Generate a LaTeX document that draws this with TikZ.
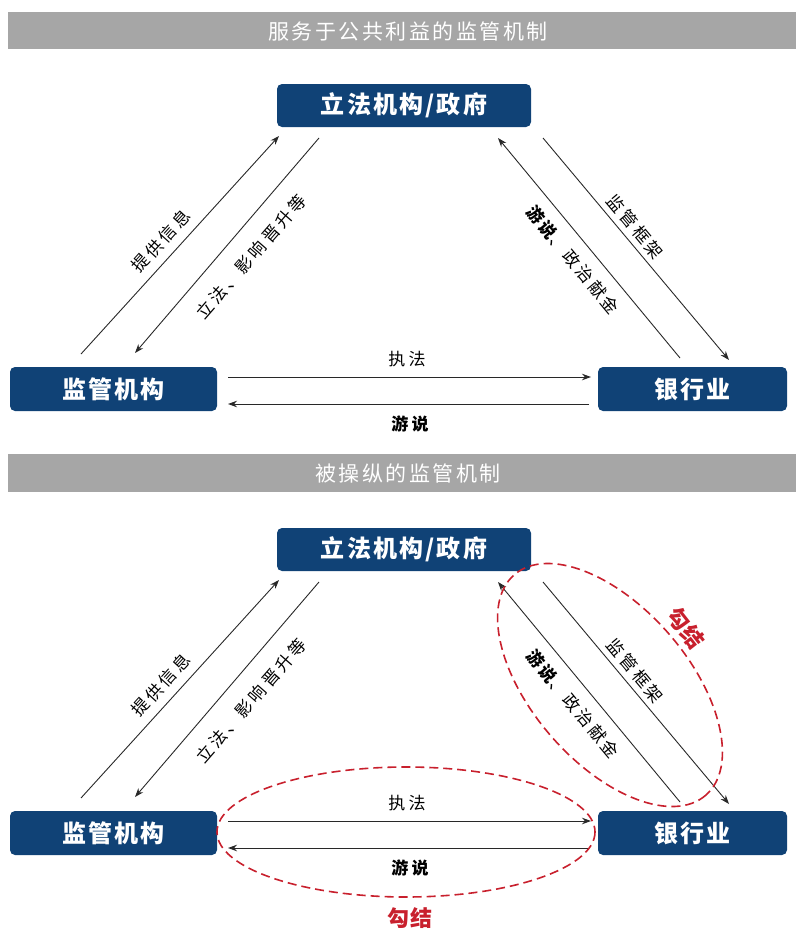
\documentclass[tikz,border=0pt]{standalone}
\usepackage{fontspec}
\newfontfamily\cjk{Noto Sans CJK SC}
\newfontfamily\cjkls{Noto Sans CJK SC}[LetterSpace=18]
\newfontfamily\cjkbox{Noto Sans CJK SC}[LetterSpace=9]
\newfontfamily\cjktitle{Noto Sans CJK SC}[LetterSpace=12]
\usetikzlibrary{arrows.meta}
\definecolor{boxblue}{RGB}{16,66,118}
\definecolor{bargray}{RGB}{166,166,166}
\definecolor{linegray}{RGB}{40,40,40}
\definecolor{colred}{RGB}{200,32,45}
\tikzset{
  actor/.style={fill=boxblue, rounded corners=5pt, text=white, inner sep=0pt,
    font=\cjkbox\bfseries\fontsize{24}{28}\selectfont},
  flow/.style={draw=linegray, line width=0.9pt, -{Stealth[length=9pt,width=6.5pt]}},
  lbl/.style={font=\cjkls\fontsize{17}{20}\selectfont, text=black, inner sep=0pt},
  blbl/.style={lbl, font=\cjkls\bfseries\fontsize{17}{20}\selectfont},
  bar/.style={fill=bargray, draw=none},
  bartitle/.style={text=white, inner sep=0pt, font=\cjktitle\fontsize{21}{25}\selectfont},
  collude/.style={draw=colred, dash pattern=on 9pt off 5pt, line width=1.6pt},
  collabel/.style={text=colred, inner sep=0pt, font=\cjkbox\bfseries\fontsize{22}{26}\selectfont},
}
\begin{document}
\begin{tikzpicture}[x=1pt,y=-1pt]
\useasboundingbox (0,0) rectangle (796,934);
% title bars
\fill[bar] (8,12) rectangle (796,49);
\node[bartitle] (t1) at (408,31) {服务于公共利益的监管机制};
\fill[bar] (8,454) rectangle (796,492);
\node[bartitle] (t2) at (408,473) {被操纵的监管机制};
\foreach \s/\dy in {a/0,b/444}{
\begin{scope}[shift={(0,\dy)}]
  \node[actor, minimum width=254pt, minimum height=43pt] (gov\s) at (404,105.5) {立法机构/政府};
  \node[actor, minimum width=207pt, minimum height=44pt] (reg\s) at (113.5,389) {监管机构};
  \node[actor, minimum width=189pt, minimum height=44pt] (bank\s) at (692.5,389) {银行业};
  % connector end points
  \coordinate (p1s\s) at (81,354);  \coordinate (p1e\s) at (279,136);
  \coordinate (p2s\s) at (319,138); \coordinate (p2e\s) at (135,353);
  \coordinate (p3s\s) at (680,358); \coordinate (p3e\s) at (498,138);
  \coordinate (p4s\s) at (543,138); \coordinate (p4e\s) at (729,360);
  \coordinate (p5s\s) at (228,377); \coordinate (p5e\s) at (591,377);
  \coordinate (p6s\s) at (589,404); \coordinate (p6e\s) at (228,404);
  \draw[flow] (p1s\s) -- (p1e\s);
  \draw[flow] (p2s\s) -- (p2e\s);
  \draw[flow] (p3s\s) -- (p3e\s);
  \draw[flow] (p4s\s) -- (p4e\s);
  \draw[flow] (p5s\s) -- (p5e\s);
  \draw[flow] (p6s\s) -- (p6e\s);
  \node[lbl, rotate=47.8] (l1\s) at (161,241) {提供信息};
  \node[lbl, rotate=49] (l2\s) at (251,257) {立法、影响晋升等};
  \node[lbl, rotate=-50.3] (l3\s) at (573,260) {{\bfseries 游说}、政治献金};
  \node[lbl, rotate=-50] (l4\s) at (635,227) {监管框架};
  \node[lbl] (l5\s) at (407,359) {执法};
  \node[blbl] (l6\s) at (410,424) {游说};
\end{scope}
}
% collusion marks
\draw[collude, rotate around={-49:(610,685)}] (610,685) ellipse [x radius=146, y radius=78];
\node[collabel, rotate=-52] (c1) at (686,628) {勾结};
\draw[collude] (406,832) ellipse [x radius=189, y radius=65];
\node[collabel] (c2) at (410,918) {勾结};
\end{tikzpicture}
\end{document}
